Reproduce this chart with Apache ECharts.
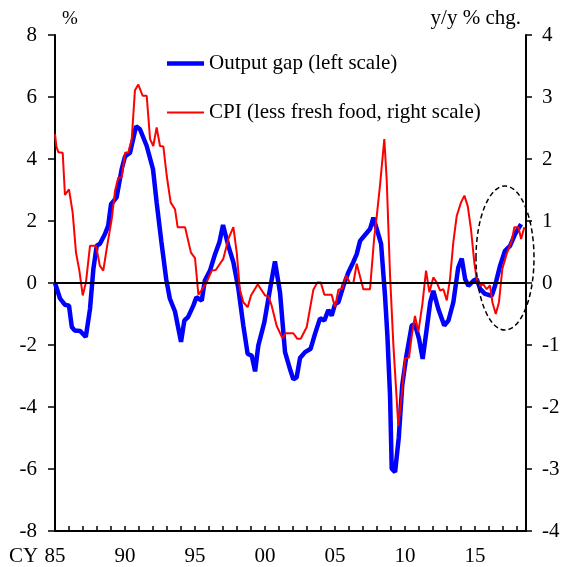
<!DOCTYPE html>
<html>
<head>
<meta charset="UTF-8">
<script src="https://cdn.jsdelivr.net/npm/echarts@6/dist/echarts.min.js"></script>
<style>
  html, body { margin: 0; padding: 0; background: #fff; }
  #chart { width: 563px; height: 567px; }
</style>
</head>
<body>
<div id="chart"></div>
<script>
// output gap, % (left scale) -- [year, value]
var outputGap = [
  [1985.0, 0.0], [1985.36, -0.5], [1985.7, -0.7], [1986.0, -0.73], [1986.2, -1.42],
  [1986.4, -1.53], [1986.8, -1.55], [1987.2, -1.74], [1987.5, -0.84], [1987.74, 0.45],
  [1987.98, 1.2], [1988.2, 1.26], [1988.57, 1.58], [1988.8, 1.85], [1989.0, 2.54],
  [1989.4, 2.76], [1989.76, 3.67], [1990.0, 4.08], [1990.36, 4.2], [1990.79, 5.06],
  [1991.07, 4.96], [1991.55, 4.42], [1992.0, 3.67], [1992.26, 2.6], [1992.6, 1.32],
  [1992.95, 0.1], [1993.2, -0.5], [1993.57, -0.92], [1994.0, -1.9], [1994.24, -1.21],
  [1994.5, -1.1], [1994.88, -0.73], [1995.1, -0.46], [1995.48, -0.57], [1995.7, 0.08],
  [1996.07, 0.4], [1996.43, 0.93], [1996.74, 1.31], [1997.0, 1.87], [1997.38, 1.2],
  [1997.74, 0.67], [1998.1, -0.19], [1998.45, -1.37], [1998.76, -2.29], [1999.05, -2.34],
  [1999.29, -2.85], [1999.52, -2.02], [1999.95, -1.27], [2000.36, -0.19], [2000.71, 0.7],
  [2001.07, -0.3], [2001.43, -2.23], [2001.8, -2.8], [2002.02, -3.11], [2002.26, -3.04],
  [2002.5, -2.42], [2002.86, -2.23], [2003.26, -2.12], [2003.57, -1.64], [2003.93, -1.14],
  [2004.24, -1.21], [2004.52, -0.87], [2004.76, -1.05], [2005.0, -0.68], [2005.24, -0.62],
  [2005.6, -0.09], [2005.95, 0.34], [2006.3, 0.67], [2006.55, 0.93], [2006.79, 1.36],
  [2007.14, 1.55], [2007.5, 1.74], [2007.74, 2.11], [2008.02, 1.68], [2008.29, 1.26],
  [2008.57, -0.41], [2008.74, -1.7], [2008.93, -3.63], [2009.05, -5.99], [2009.29, -6.1],
  [2009.55, -5.0], [2009.8, -3.3], [2010.1, -2.34], [2010.48, -1.37], [2010.7, -1.32],
  [2011.0, -1.8], [2011.26, -2.45], [2011.55, -1.48], [2011.8, -0.62], [2012.02, -0.25],
  [2012.38, -0.84], [2012.8, -1.37], [2013.1, -1.21], [2013.45, -0.62], [2013.8, 0.5],
  [2014.05, 0.79], [2014.29, 0.13], [2014.52, -0.09], [2014.88, 0.07], [2015.12, 0.13],
  [2015.36, -0.19], [2015.71, -0.35], [2016.19, -0.41], [2016.43, -0.09], [2016.79, 0.56],
  [2017.14, 1.04], [2017.5, 1.2], [2017.86, 1.58], [2018.29, 1.9]
];

// CPI less fresh food, y/y % chg. (right scale) -- [year, value]
var cpiCore = [
  [1985.0, 2.4], [1985.1, 2.2], [1985.24, 2.11], [1985.55, 2.1], [1985.71, 1.42],
  [1986.0, 1.51], [1986.26, 1.14], [1986.5, 0.49], [1986.74, 0.2], [1986.98, -0.2],
  [1987.21, 0.01], [1987.5, 0.6], [1987.93, 0.6], [1988.2, 0.28], [1988.45, 0.2],
  [1988.69, 0.55], [1989.05, 1.03], [1989.29, 1.49], [1989.52, 1.7], [1989.76, 1.7],
  [1990.0, 2.1], [1990.24, 2.11], [1990.48, 2.32], [1990.71, 3.11], [1990.95, 3.2],
  [1991.26, 3.02], [1991.55, 3.02], [1991.79, 2.32], [1992.02, 2.21], [1992.26, 2.51],
  [1992.5, 2.21], [1992.74, 2.2], [1992.98, 1.73], [1993.26, 1.3], [1993.57, 1.19],
  [1993.76, 0.9], [1994.29, 0.9], [1994.71, 0.49], [1995.0, 0.4], [1995.24, -0.19],
  [1995.6, -0.07], [1995.83, 0.01], [1996.19, 0.2], [1996.48, 0.21], [1997.02, 0.39],
  [1997.38, 0.71], [1997.74, 0.9], [1997.98, 0.49], [1998.2, -0.1], [1998.45, -0.31],
  [1998.76, -0.39], [1999.0, -0.2], [1999.48, -0.02], [2000.0, -0.2], [2000.24, -0.21],
  [2000.48, -0.37], [2000.83, -0.69], [2001.24, -0.89], [2001.48, -0.81], [2001.79, -0.81],
  [2002.02, -0.81], [2002.31, -0.9], [2002.55, -0.9], [2002.98, -0.71], [2003.45, -0.11],
  [2003.74, 0.01], [2003.98, 0.01], [2004.24, -0.19], [2004.76, -0.19], [2005.0, -0.39],
  [2005.24, -0.11], [2005.52, -0.09], [2005.79, 0.12], [2006.07, 0.0], [2006.31, 0.0],
  [2006.55, 0.31], [2007.02, -0.1], [2007.5, -0.1], [2007.79, 0.71], [2007.98, 1.08],
  [2008.21, 1.57], [2008.52, 2.32], [2008.69, 1.67], [2008.93, 0.12], [2009.17, -1.01],
  [2009.52, -2.3], [2009.76, -1.81], [2010.0, -1.22], [2010.29, -1.2], [2010.48, -0.85],
  [2010.71, -0.53], [2010.95, -0.79], [2011.24, -0.34], [2011.5, 0.2], [2011.74, -0.15],
  [2012.02, 0.09], [2012.26, 0.01], [2012.5, -0.12], [2012.74, -0.1], [2012.98, -0.28],
  [2013.21, 0.06], [2013.45, 0.66], [2013.69, 1.08], [2014.0, 1.3], [2014.24, 1.41],
  [2014.48, 1.24], [2014.71, 0.87], [2014.95, 0.33], [2015.12, 0.06], [2015.36, -0.04],
  [2015.59, -0.02], [2015.83, -0.1], [2016.07, -0.04], [2016.24, -0.31], [2016.48, -0.5],
  [2016.71, -0.31], [2016.95, 0.23], [2017.26, 0.47], [2017.62, 0.68], [2017.81, 0.9],
  [2018.1, 0.9], [2018.29, 0.71], [2018.52, 0.9]
];

var seriesNames = ['Output gap (left scale)', 'CPI (less fresh food, right scale)'];

var FONT = "'Liberation Serif', 'Times New Roman', serif";
var chart = echarts.init(document.getElementById('chart'));

var option = {
  animation: false,
  backgroundColor: '#fff',
  textStyle: { fontFamily: FONT, color: '#000' },
  grid: { left: 55, right: 37, top: 35, bottom: 35 },
  legend: {
    orient: 'vertical',
    left: 162,
    top: 48,
    itemWidth: 37,
    itemHeight: 14,
    itemGap: 28,
    data: [
      { name: seriesNames[0], icon: 'path://M0,0L37,0L37,4.5L0,4.5Z' },
      { name: seriesNames[1], icon: 'path://M0,0L37,0L37,2L0,2Z' }
    ],
    textStyle: { fontFamily: FONT, fontSize: 21, color: '#000' }
  },
  xAxis: {
    type: 'value',
    min: 1985,
    max: 2018.64,
    interval: 1,
    splitLine: { show: false },
    axisLine: { onZero: false, lineStyle: { color: '#000', width: 2 } },
    axisTick: { inside: true, length: 5, lineStyle: { color: '#000', width: 1.5 } },
    axisLabel: {
      margin: 15,
      fontSize: 21,
      fontFamily: FONT,
      color: '#000',
      showMaxLabel: false,
      formatter: function (v) {
        if (v % 5 !== 0) return '';
        var y = v % 100;
        return (y < 10 ? '0' : '') + y;
      }
    }
  },
  yAxis: [{
    type: 'value',
    min: -8,
    max: 8,
    interval: 2,
    splitLine: { show: false },
    axisLine: { onZero: false, lineStyle: { color: '#000', width: 2 } },
    axisTick: { length: 7, lineStyle: { color: '#000', width: 1.5 } },
    axisLabel: { margin: 18, fontSize: 21, fontFamily: FONT, color: '#000' }
  }, {
    type: 'value',
    position: 'right',
    min: -4,
    max: 4,
    interval: 1,
    splitLine: { show: false },
    axisLine: { onZero: false, lineStyle: { color: '#000', width: 2 } },
    axisTick: { length: 6, lineStyle: { color: '#000', width: 1.5 } },
    axisLabel: { margin: 16, fontSize: 21, fontFamily: FONT, color: '#000' }
  }],
  graphic: [
    { type: 'text', left: 62, top: 10, style: { text: '%', font: '19px ' + FONT, fill: '#000' } },
    { type: 'text', right: 42, top: 8, style: { text: 'y/y % chg.', font: '21px ' + FONT, fill: '#000' } },
    { type: 'text', left: 9, top: 546, style: { text: 'CY', font: '21px ' + FONT, fill: '#000' } },
    {
      type: 'ellipse',
      shape: { cx: 505, cy: 258, rx: 29, ry: 72 },
      style: { fill: 'none', stroke: '#000', lineWidth: 1.5, lineDash: [5, 3] },
      z: 10
    }
  ],
  series: [{
    name: seriesNames[1],
    type: 'line',
    yAxisIndex: 1,
    data: cpiCore,
    symbol: 'none',
    lineStyle: { color: '#ff0000', width: 2 },
    itemStyle: { color: '#ff0000' },
    z: 3
  }, {
    name: seriesNames[0],
    type: 'line',
    yAxisIndex: 0,
    data: outputGap,
    symbol: 'none',
    lineStyle: { color: '#0000ff', width: 4.5 },
    itemStyle: { color: '#0000ff' },
    z: 2,
    markLine: {
      silent: true,
      symbol: 'none',
      label: { show: false },
      lineStyle: { color: '#000', width: 2, type: 'solid' },
      data: [{ yAxis: 0 }]
    }
  }]
};

chart.setOption(option);
</script>
</body>
</html>
